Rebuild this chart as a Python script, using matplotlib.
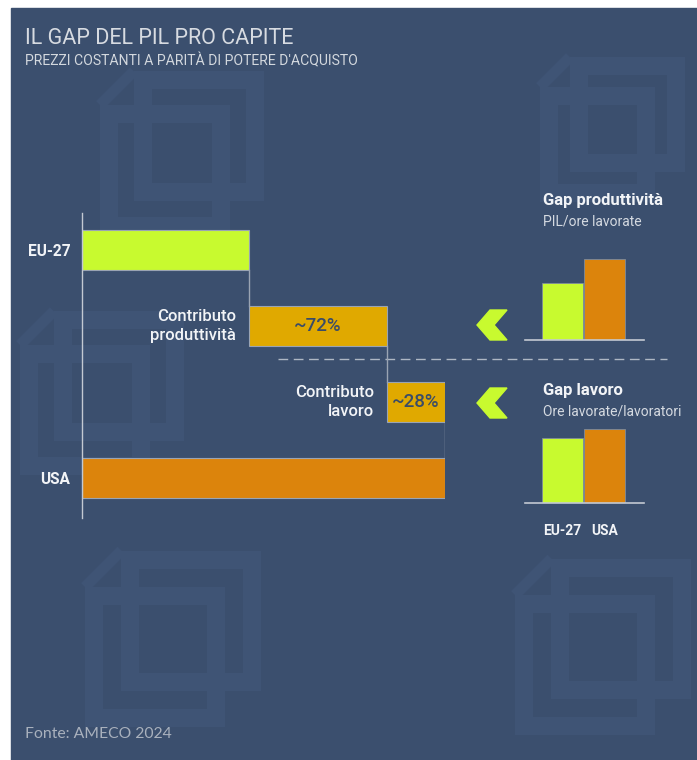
import matplotlib
matplotlib.use('Agg')
import matplotlib.pyplot as plt
from matplotlib.patches import Rectangle, Polygon

plt.rcParams['font.family'] = ['Roboto', 'DejaVu Sans']

# ── data (schematic index, USA = 100) ──
levels = ['EU-27', 'USA']
eu_level = 46
prod_contrib = 38
labour_contrib = 16
usa_level = eu_level + prod_contrib + labour_contrib
contrib_labels = ['Contributo\nproduttività', 'Contributo\nlavoro']
contrib_shares = ['~72%', '~28%']

gap_groups = ['EU-27', 'USA']
prod_index = [70, 100]      # PIL/ore lavorate
labour_index = [88, 100]    # ore lavorate/lavoratori

BG = '#3b4f6e'
WM = '#3f5475'
LIME = '#c8fa2f'
GOLD = '#e0a900'
ORANGE = '#dc840c'
EDGE = '#9aa4b3'
TXT = '#f2f4f7'

W, H = 697, 760


def box(l, t, r, b):
    return [l / W, 1 - b / H, (r - l) / W, (b - t) / H]


fig = plt.figure(figsize=(W / 100, H / 100), dpi=100, facecolor='white')
bg = fig.add_axes([0, 0, 1, 1])
bg.set_xlim(0, W)
bg.set_ylim(H, 0)
bg.axis('off')
bg.add_patch(Rectangle((11, 8), W - 11, H - 8, color=BG, zorder=0))


# faint logo watermarks
def watermark(x, y, s):
    off = 0.26 * s
    for dx, dy in [(off, -off), (0, 0)]:
        bg.add_patch(Rectangle((x + dx + 9, y + dy + 9), s - 18, s - 18, fill=False,
                               edgecolor=WM, linewidth=13, zorder=1))
    bg.plot([x, x + off], [y, y - off], color=WM, lw=8, zorder=1, solid_capstyle='butt')


for wx, wy, ws in [(85, 587, 140), (515, 595, 140), (540, 87, 115),
                   (20, 345, 130), (100, 105, 130)]:
    watermark(wx, wy, ws)

# titles
bg.text(25, 38, 'IL GAP DEL PIL PRO CAPITE', fontsize=15.5, color='#d7dbe1',
        va='center', ha='left')
bg.text(25, 61, "PREZZI COSTANTI A PARITÀ DI POTERE D'ACQUISTO", fontsize=10.1,
        color='#d3d8de', va='center', ha='left')
bg.text(25, 734, 'Fonte: AMECO 2024', fontsize=11.3, color='#a9b1bd',
        va='center', ha='left', family=['Lato', 'DejaVu Sans'])

# separator and chevrons
bg.plot([278, 667], [359, 359], color='#aeb7c4', lw=1, dashes=(7, 4), zorder=2)
for cy in [325, 403]:
    bg.add_patch(Polygon([(477, cy), (490, cy - 15), (507, cy - 15), (494, cy),
                          (507, cy + 15), (490, cy + 15)], closed=True,
                         color=LIME, zorder=3))

# ── main waterfall ──
ax = fig.add_axes(box(82, 213, 445, 518))
ax.set_facecolor('none')
h = 0.526
ax.barh(0, eu_level, height=h, color=LIME, edgecolor=EDGE, linewidth=0.8)
ax.barh(1, prod_contrib, left=eu_level, height=h, color=GOLD, edgecolor=EDGE, linewidth=0.8)
ax.barh(2, labour_contrib, left=eu_level + prod_contrib, height=h, color=GOLD,
        edgecolor=EDGE, linewidth=0.8)
ax.barh(3, usa_level, height=h, color=ORANGE, edgecolor=EDGE, linewidth=0.8)

steps = [eu_level, eu_level + prod_contrib, usa_level]
for i, xv in enumerate(steps):
    ax.plot([xv, xv], [i + h / 2, i + 1 - h / 2], color=EDGE, lw=1)

starts = [eu_level, eu_level + prod_contrib]
widths = [prod_contrib, labour_contrib]
for i, (lab, share, st, wd) in enumerate(zip(contrib_labels, contrib_shares, starts, widths)):
    ax.annotate(lab, (st, i + 1), xytext=(-9.5, 0), textcoords='offset points',
                ha='right', va='center', fontsize=12, color=TXT, fontweight='medium',
                linespacing=1.3)
    ax.text(st + wd / 2, i + 1, share, ha='center', va='center', fontsize=13.5,
            color='#3a4c68', fontweight='medium')

ax.set_xlim(0, 100)
ax.set_ylim(3.526, -0.487)
ax.set_yticks([0, 3], levels)
ax.set_xticks([])
ax.tick_params(axis='y', length=0, pad=8.5, labelsize=11.2, labelcolor=TXT)
for t in ax.get_yticklabels():
    t.set_fontweight('bold')
for s in ['top', 'right', 'bottom']:
    ax.spines[s].set_visible(False)
ax.spines['left'].set_color('#c3c9d2')
ax.spines['left'].set_linewidth(1)


# ── small comparison charts ──
def mini(axbox, vals, title, sub, ty, show_labels):
    a = fig.add_axes(axbox)
    a.set_facecolor('none')
    a.bar([0, 1], vals, width=0.965, color=[LIME, ORANGE], edgecolor='#7f8b9c', linewidth=0.6)
    a.set_xlim(-0.88, 1.92)
    a.set_ylim(0, 100)
    a.set_yticks([])
    for s in ['top', 'right', 'left']:
        a.spines[s].set_visible(False)
    a.spines['bottom'].set_color('#c3c9d2')
    a.spines['bottom'].set_linewidth(1.2)
    if show_labels:
        a.set_xticks([0, 1], gap_groups)
        a.tick_params(axis='x', length=0, pad=15, labelsize=10, labelcolor=TXT)
        for t in a.get_xticklabels():
            t.set_fontweight('bold')
    else:
        a.set_xticks([])
    bg.text(543, ty, title, fontsize=12, fontweight='bold', color=TXT, va='center')
    bg.text(543, ty + 21, sub, fontsize=10, color='#d5dae1', va='center')


mini(box(525, 259, 644, 340), prod_index, 'Gap produttività', 'PIL/ore lavorate', 201, False)
mini(box(525, 429, 644, 503), labour_index, 'Gap lavoro', 'Ore lavorate/lavoratori', 390, True)

fig.savefig('out.png', dpi=100, facecolor='white')
